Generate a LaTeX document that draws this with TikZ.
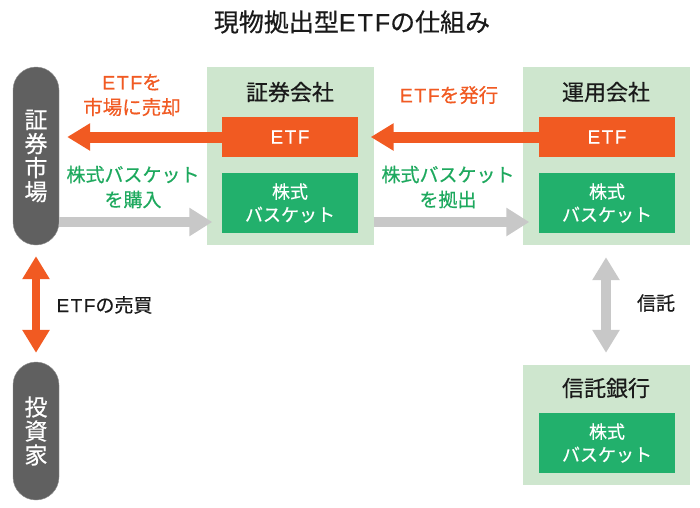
\documentclass[tikz,border=0pt]{standalone}
\usepackage{fontspec}
\setmainfont{Noto Sans CJK JP}[FakeBold=0.5]
\newfontfamily\latin{Liberation Sans}[FakeBold=0.5,LetterSpace=8]
\usetikzlibrary{arrows.meta,positioning,calc}
\definecolor{Ink}{HTML}{1A1A1A}
\definecolor{Pill}{HTML}{606060}
\definecolor{Pale}{HTML}{CEE6CE}
\definecolor{Orange}{HTML}{F15A22}
\definecolor{Green}{HTML}{22B06C}
\definecolor{GreenText}{HTML}{1EA95E}
\definecolor{Grey}{HTML}{C8C8C8}
\newcommand{\etf}{{\latin ETF}}
\tikzset{
  pill/.style={fill=Pill,draw=Pill!70,rounded corners=23pt,minimum width=46pt,align=center,text=white,font=\fontsize{23}{24}\selectfont},
  company/.style={fill=Pale,draw=none,minimum width=167pt,minimum height=178pt},
  ctitle/.style={text=Ink,font=\fontsize{22}{24}\selectfont},
  etfbox/.style={fill=Orange,draw=none,minimum width=136pt,minimum height=40pt,text=white,font=\fontsize{19}{22}\selectfont},
  basketbox/.style={fill=Green,draw=none,minimum width=136pt,minimum height=60pt,align=center,text=white,font=\fontsize{18}{23}\selectfont},
  orangelbl/.style={text=Orange,align=center,font=\fontsize{19.5}{25}\selectfont},
  greenlbl/.style={text=GreenText,align=center,font=\fontsize{19}{25}\selectfont},
  orangearrow/.style={draw=Orange,line width=11pt,-{Triangle[length=23pt,width=26pt]}},
  greyarrow/.style={draw=Grey,line width=10pt,-{Triangle[length=23pt,width=27pt]}},
  orangeboth/.style={draw=Orange,line width=8pt,{Triangle[length=23pt,width=26pt]}-{Triangle[length=23pt,width=26pt]}},
  greyboth/.style={draw=Grey,line width=10pt,{Triangle[length=23pt,width=26pt]}-{Triangle[length=23pt,width=26pt]}}
}
\begin{document}
\begin{tikzpicture}[x=1pt,y=-1pt]
\useasboundingbox[fill=white] (0,0) rectangle (700,507);
\node[text=Ink,font=\fontsize{25}{26}\selectfont] (title) at (352,22) {現物拠出型\etf の仕組み};
% left column
\node[pill,minimum height=178pt] (market) at (36,156) {証\\券\\市\\場};
\node[pill,minimum height=138pt] (investor) at (36,431) {投\\資\\家};
% companies
\node[company] (broker) at (290,156) {};
\node[ctitle] (brokerT) at (290,92) {証券会社};
\node[etfbox] (etfA) at (290,137) {\etf};
\node[basketbox] (basketA) at (290,203) {株式\\バスケット};
\node[company] (manager) at (606,156) {};
\node[ctitle] (managerT) at (606,92) {運用会社};
\node[etfbox] (etfB) at (607,137) {\etf};
\node[basketbox] (basketB) at (607,203) {株式\\バスケット};
\node[company,minimum height=120pt] (trust) at (606,425) {};
\node[ctitle] (trustT) at (606,388) {信託銀行};
\node[basketbox] (basketC) at (607,443) {株式\\バスケット};
% labels
\node[orangelbl] (sellL) at (132,95) {\etf を\\市場に売却};
\node[greenlbl] (buyL) at (133,187) {株式バスケット\\を購入};
\node[orangelbl] (issueL) at (449,95) {\etf を発行};
\node[greenlbl] (contribL) at (448,187) {株式バスケット\\を拠出};
\node[text=Ink,font=\fontsize{19}{22}\selectfont,anchor=west] (tradeL) at (53,305) {\etf の売買};
\node[text=Ink,font=\fontsize{19}{22}\selectfont] (entrustL) at (656,303) {信託};
% arrows
\draw[orangearrow] (etfA.west) -- ([xshift=8pt]market.east |- etfA.west);
\draw[orangearrow] (etfB.west) -- ([xshift=-3pt]broker.east |- etfB.west);
\draw[greyarrow] ([yshift=-66pt]market.east) -- ([xshift=6pt,yshift=-66pt]broker.west);
\draw[greyarrow] ([yshift=-66pt]broker.east) -- ([xshift=7pt,yshift=-66pt]manager.west);
\draw[orangeboth] ([yshift=-11pt]market.south) -- ([yshift=9pt]investor.north);
\draw[greyboth] ([yshift=-12pt]manager.south) -- ([yshift=12pt]trust.north);
\end{tikzpicture}
\end{document}
